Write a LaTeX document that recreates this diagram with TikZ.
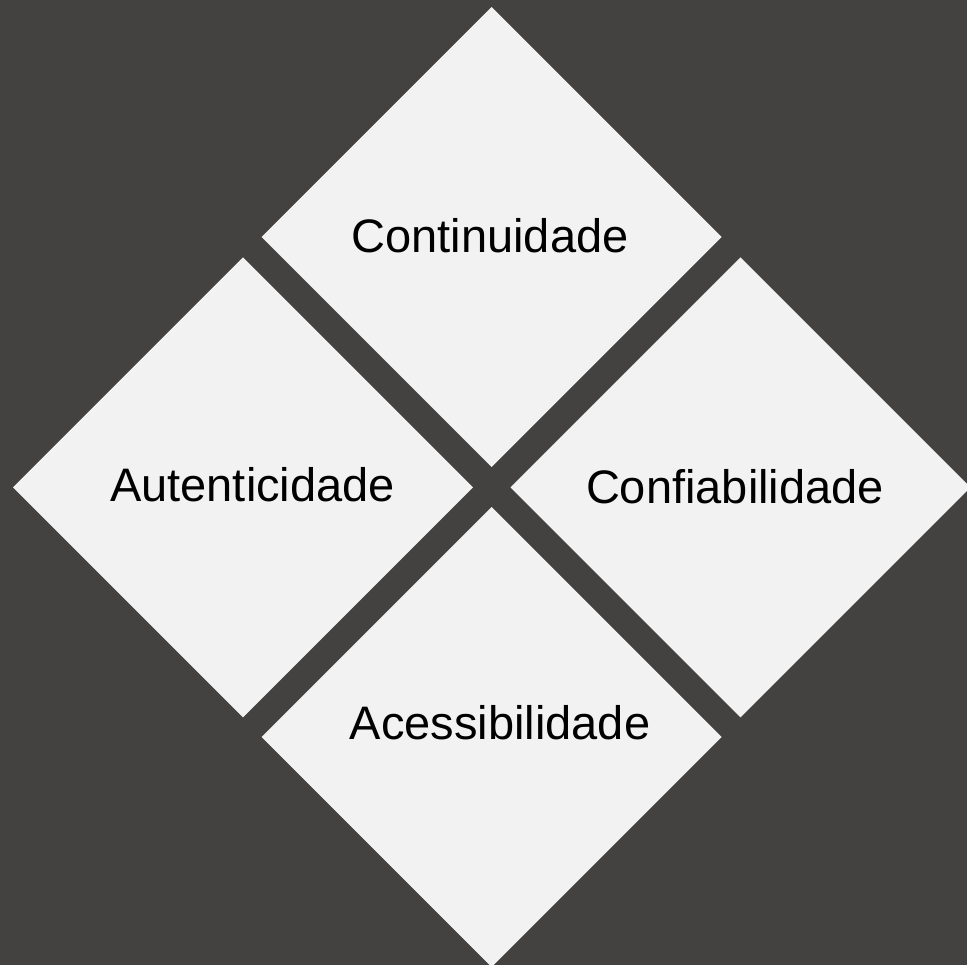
\documentclass[tikz,border=0pt]{standalone}
\usepackage{fontspec}
\setmainfont{Liberation Sans}
\usetikzlibrary{shapes.geometric}
\definecolor{bgdark}{RGB}{67,66,64}
\definecolor{tile}{RGB}{242,242,242}
\tikzset{
  tile/.style={diamond,fill=tile,inner sep=0pt,outer sep=0pt,minimum width=460pt,minimum height=460pt},
  tilelabel/.style={anchor=base,inner sep=0pt,font=\fontsize{47}{56}\selectfont}
}
\begin{document}
\begin{tikzpicture}[x=1pt,y=1pt]
    \useasboundingbox (0,0) rectangle (967,965);
    \clip (0,0) rectangle (967,965);
    \fill[bgdark] (0,0) rectangle (967,965);

    \node[tile] (cont) at (491.7,728) {};
    \node[tile] (aut) at (243,477.5) {};
    \node[tile] (conf) at (740.5,477.5) {};
    \node[tile] (aces) at (491.7,228) {};

    \node[tilelabel] (contlabel) at (490,712.3) {Continuidade};
    \node[tilelabel] (autlabel) at (252.6,463.3) {Autenticidade};
    \node[tilelabel] (conflabel) at (735,461) {Confiabilidade};
    \node[tilelabel] (aceslabel) at (500,225) {Acessibilidade};
  \end{tikzpicture}
\end{document}
